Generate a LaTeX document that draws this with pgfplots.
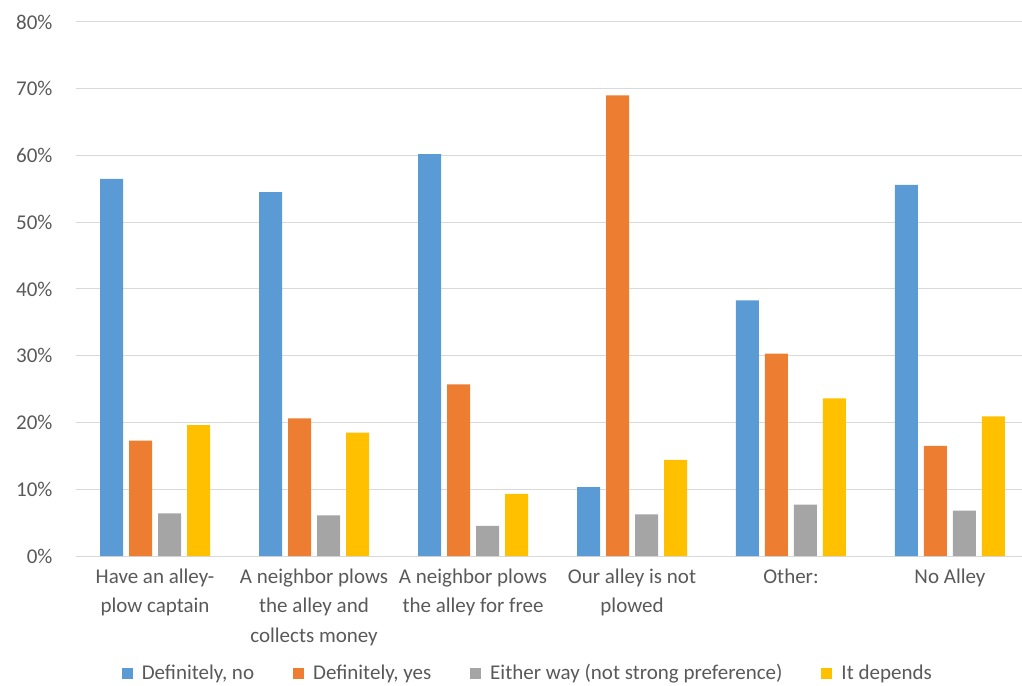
\documentclass[border=0pt]{standalone}
\usepackage{fontspec}
\setmainfont{Carlito}
\usepackage{pgfplots}
\pgfplotsset{compat=1.18}
\definecolor{cblue}{HTML}{5B9BD5}
\definecolor{corange}{HTML}{ED7D31}
\definecolor{cgray}{HTML}{A5A5A5}
\definecolor{cyellow}{HTML}{FFC000}
\definecolor{gridc}{HTML}{D9D9D9}
\definecolor{txt}{HTML}{595959}
\begin{document}
\begin{tikzpicture}
\path[use as bounding box] (-76pt,-129pt) rectangle (946pt,556pt);
\begin{axis}[
  at={(0pt,0pt)}, anchor=south west,
  scale only axis, width=946pt, height=534pt,
  xmin=-0.497, xmax=5.453, ymin=0, ymax=80,
  ybar=6pt, bar width=23pt,
  axis x line*=bottom, axis y line*=left,
  x axis line style={draw=gridc, line width=1pt},
  y axis line style={draw=none},
  tick style={draw=none},
  ymajorgrids, major grid style={draw=gridc, line width=1pt},
  ytick={0,10,...,80},
  yticklabel={\pgfmathprintnumber{\tick}\%},
  /pgf/number format/assume math mode=true,
  xtick={0,1,2,3,4,5},
  xticklabels={{Have an alley-\\plow captain},{A neighbor plows\\the alley and\\collects money},{A neighbor plows\\the alley for free},{Our alley is not\\plowed},{Other:},{No Alley}},
  ticklabel style={font=\fontsize{21}{29.5}\selectfont, text=txt},
  xticklabel style={align=center, yshift=-5pt},
  yticklabel style={xshift=-20pt},
  legend columns=4,
  legend style={draw=none, fill=none, at={(0.045,-0.2191)}, anchor=west,
    font=\fontsize{21}{24}\selectfont, text=txt,
    /tikz/every odd column/.append style={column sep=7pt},
    /tikz/every even column/.append style={column sep=37pt}},
  legend image code/.code={\fill[#1] (0pt,-5.5pt) rectangle (11pt,5.5pt);},
]
\addplot[fill=cblue, draw=none] coordinates {(0,56.5) (1,54.5) (2,60.2) (3,10.3) (4,38.3) (5,55.6)};
\addplot[fill=corange, draw=none] coordinates {(0,17.3) (1,20.6) (2,25.7) (3,69.0) (4,30.3) (5,16.5)};
\addplot[fill=cgray, draw=none] coordinates {(0,6.4) (1,6.1) (2,4.5) (3,6.25) (4,7.7) (5,6.8)};
\addplot[fill=cyellow, draw=none] coordinates {(0,19.6) (1,18.5) (2,9.3) (3,14.4) (4,23.6) (5,20.9)};
\legend{{Definitely, no},{Definitely, yes},{Either way (not strong preference)},{It depends}}
\end{axis}
\end{tikzpicture}
\end{document}
